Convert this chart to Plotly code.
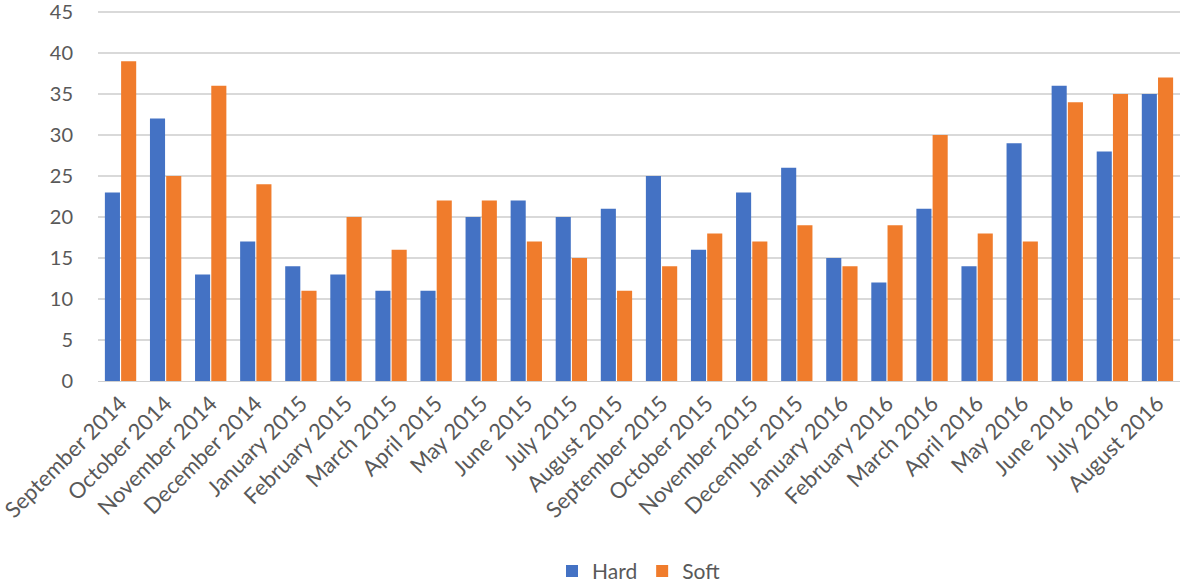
import plotly.graph_objects as go

months = ["September 2014", "October 2014", "November 2014", "December 2014",
          "January 2015", "February 2015", "March 2015", "April 2015", "May 2015",
          "June 2015", "July 2015", "August 2015", "September 2015", "October 2015",
          "November 2015", "December 2015", "January 2016", "February 2016",
          "March 2016", "April 2016", "May 2016", "June 2016", "July 2016", "August 2016"]
hard = [23, 32, 13, 17, 14, 13, 11, 11, 20, 22, 20, 21, 25, 16, 23, 26, 15, 12, 21, 14, 29, 36, 28, 35]
soft = [39, 25, 36, 24, 11, 20, 16, 22, 22, 17, 15, 11, 14, 18, 17, 19, 14, 19, 30, 18, 17, 34, 35, 37]
y_ticks = [0, 5, 10, 15, 20, 25, 30, 35, 40, 45]

font = "Lato, 'Open Sans', sans-serif"
fig = go.Figure()
fig.add_trace(go.Bar(x=months, y=hard, name="Hard", marker=dict(color="#4472C4", line=dict(width=0))))
fig.add_trace(go.Bar(x=months, y=soft, name="Soft", marker=dict(color="#F07C2C", line=dict(width=0))))

fig.update_layout(
    width=1181, height=587,
    margin=dict(l=98, r=1, t=8, b=206, autoexpand=False),
    paper_bgcolor="white", plot_bgcolor="white",
    barmode="group", bargap=0.28, bargroupgap=0.07,
    font=dict(family=font, size=20, color="#595959"),
    legend=dict(orientation="h", x=0.5, xanchor="center", y=-0.51, yanchor="middle",
                font=dict(size=21, color="#595959"), itemwidth=30, traceorder="normal"),
    xaxis=dict(tickangle=-45, showgrid=False, showline=True, linecolor="#D0D0D0", linewidth=1,
               ticks="", automargin=False, ticklabeloverflow="allow",
               tickfont=dict(size=22, color="#595959")),
    yaxis=dict(range=[0, 45.49], tickmode="array", tickvals=y_ticks, ticktext=[str(v) for v in y_ticks],
               showgrid=True, gridcolor="#D9D9D9", gridwidth=1.5,
               zeroline=False, showline=False, ticks="outside", ticklen=20, tickcolor="rgba(0,0,0,0)",
               automargin=False, ticklabeloverflow="allow", tickfont=dict(size=20, color="#595959")),
)
fig.write_html("out.html")
